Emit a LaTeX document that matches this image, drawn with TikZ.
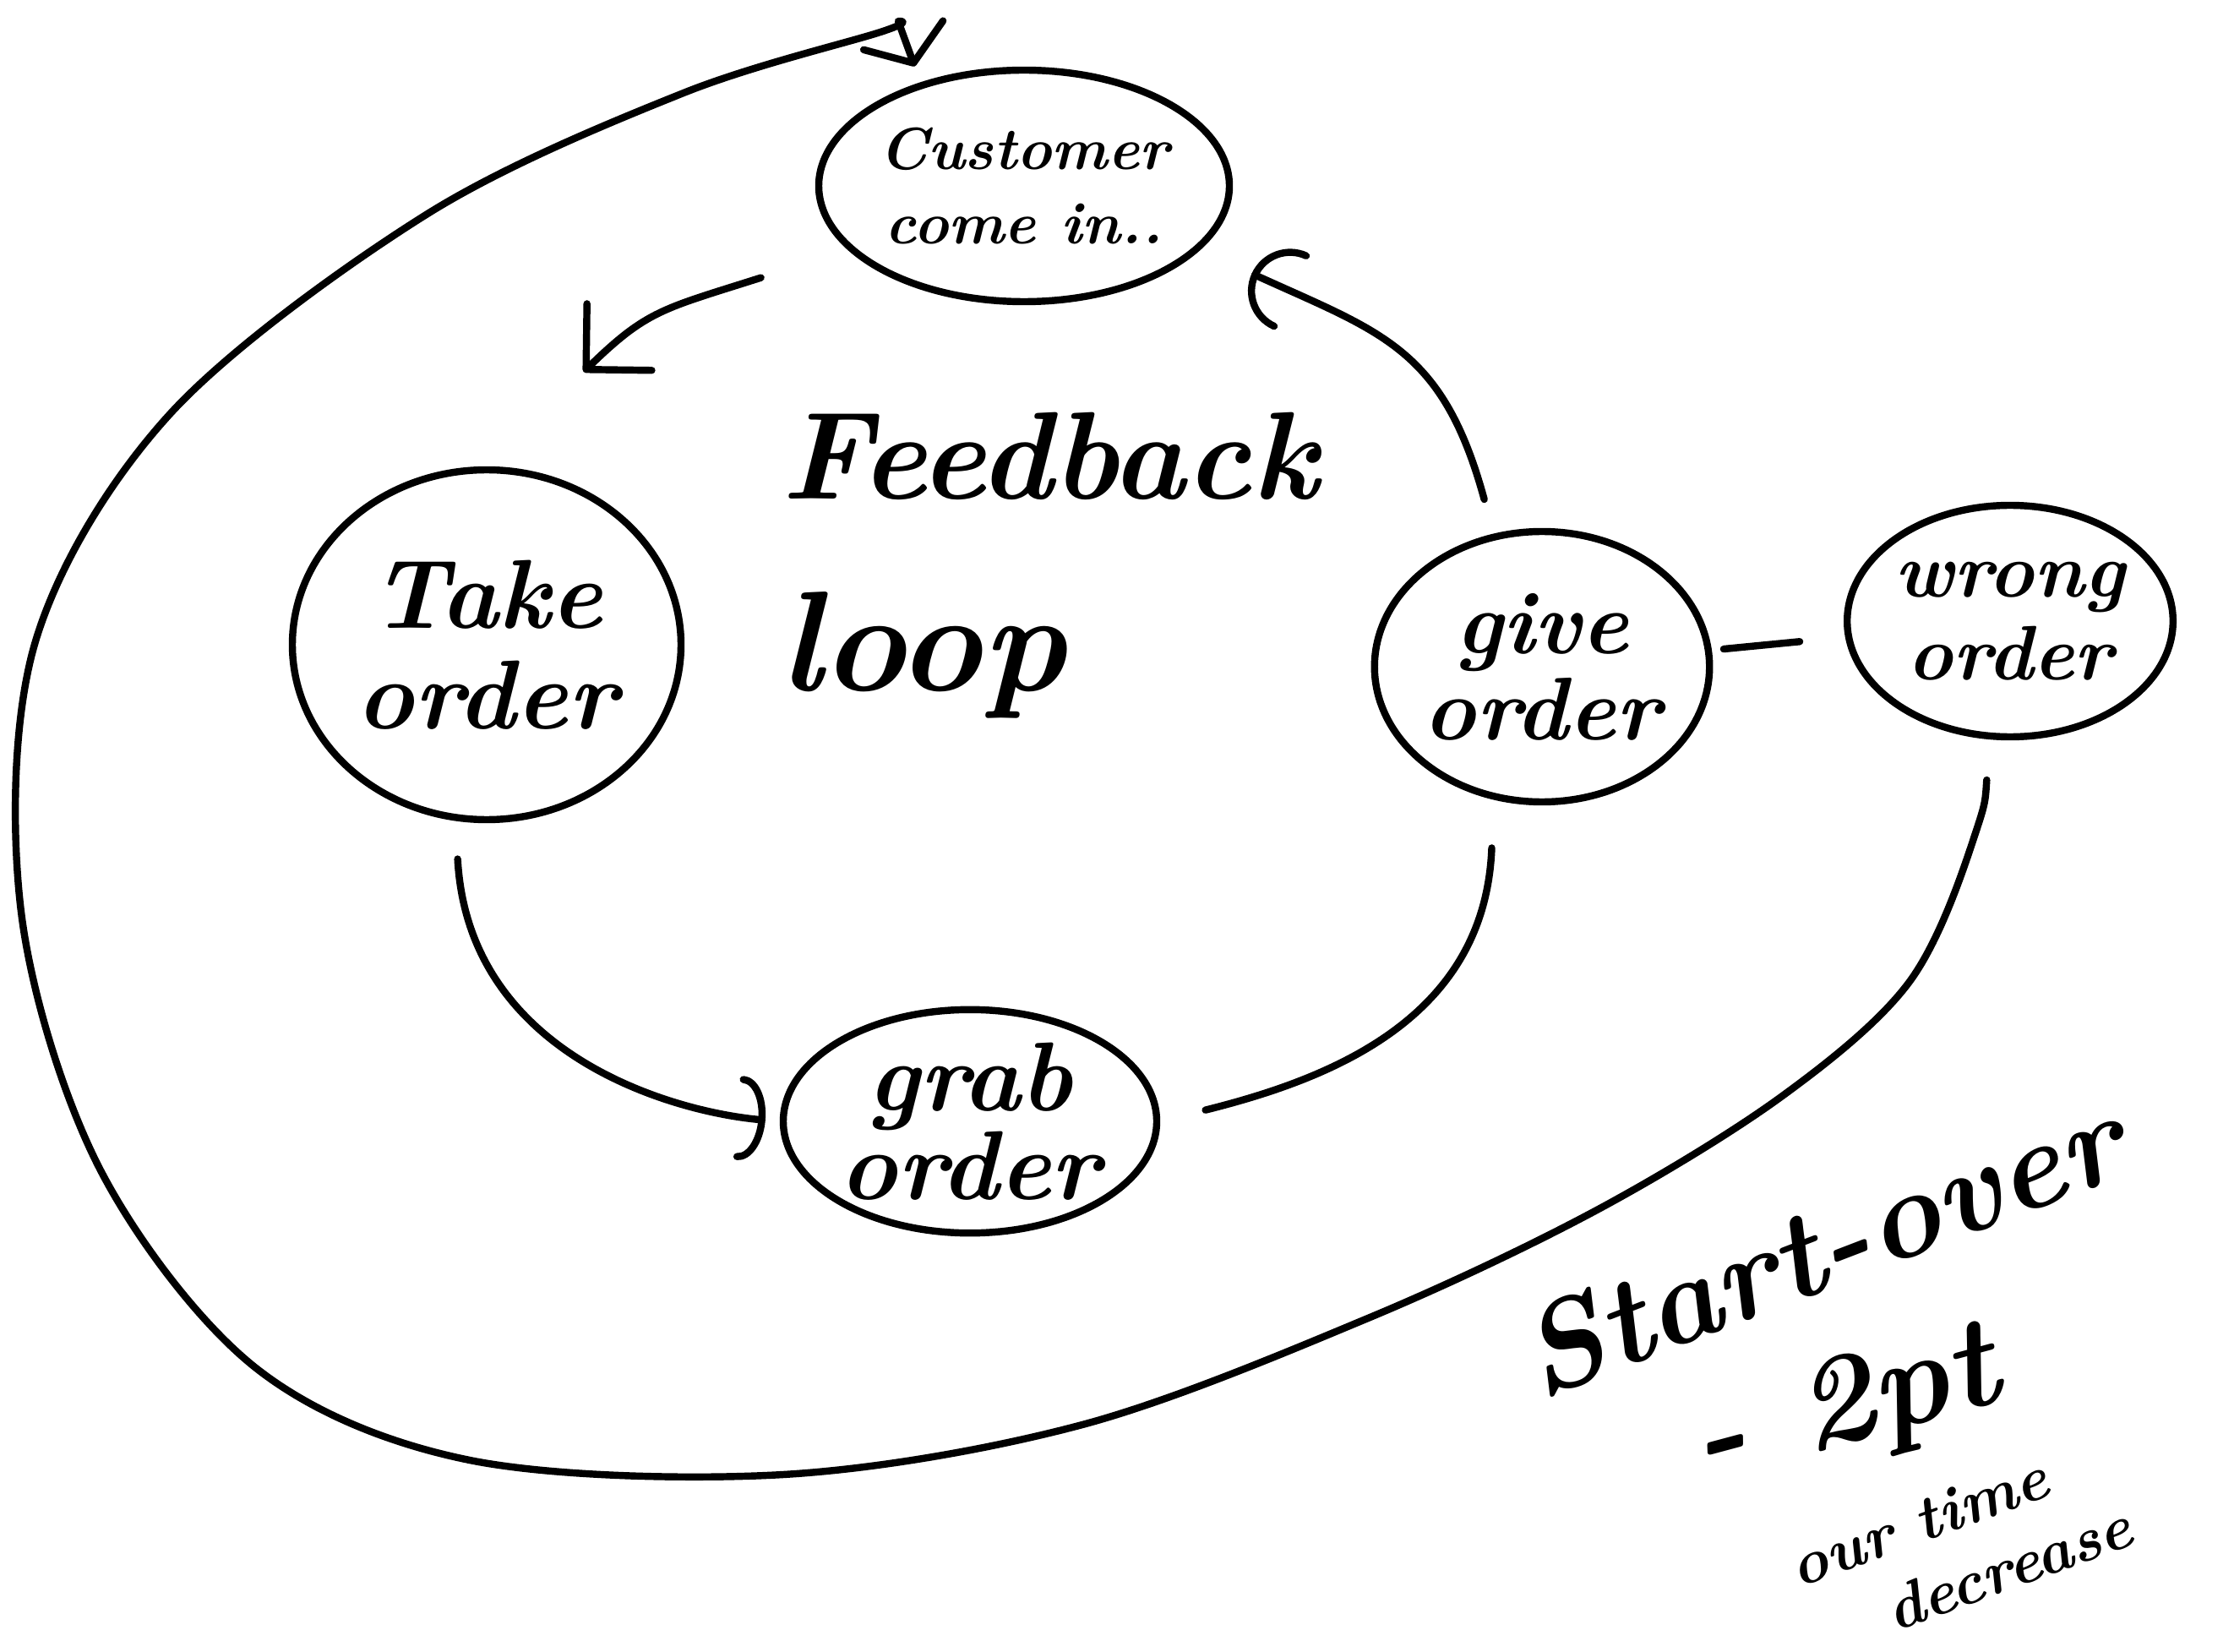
\documentclass[tikz,border=0pt]{standalone}
\usepackage{tikz}
\usetikzlibrary{arrows.meta,positioning,shapes.geometric}

\begin{document}
\begin{tikzpicture}[
  pen/.style={line width=2.4pt,line cap=round,line join=round},
  bubble/.style={pen,draw,ellipse,inner sep=0pt,align=center},
  scrawl/.style={inner sep=0pt,align=center}]
\useasboundingbox (0,0) rectangle (26.44,-19.55);
% the steps of the loop
\node[bubble,minimum width=3.92cm,minimum height=2.74cm,font=\bfseries\itshape\fontsize{20}{25}\selectfont] (cust) at (12.12,-2.20) {Customer\\come in..};
\node[bubble,minimum width=4.60cm,minimum height=4.14cm,font=\bfseries\itshape\fontsize{33}{34}\selectfont] (take) at (5.76,-7.63) {Take\\order};
\node[bubble,minimum width=3.12cm,minimum height=3.20cm,font=\bfseries\itshape\fontsize{30}{29}\selectfont] (give) at (18.25,-7.89) {give\\order};
\node[bubble,minimum width=3.40cm,minimum height=2.74cm,font=\bfseries\itshape\fontsize{26}{28}\selectfont] (wrong) at (23.79,-7.35) {wrong\\order};
\node[bubble,minimum width=4.42cm,minimum height=2.53cm,font=\bfseries\itshape\fontsize{33}{30}\selectfont] (grab) at (11.48,-13.27) {grab\\order};
% words in the middle and in the corner
\node[scrawl,font=\bfseries\itshape\fontsize{42}{50}\selectfont] (feed) at (12.42,-5.40) {Feedback};
\node[scrawl,font=\bfseries\itshape\fontsize{48}{56}\selectfont] (loop) at (10.92,-7.75) {loop};
\node[scrawl,rotate=21,font=\bfseries\itshape\fontsize{42}{50}\selectfont] (start) at (21.55,-14.75) {Start-over};
\node[scrawl,rotate=15,font=\bfseries\itshape\fontsize{44}{50}\selectfont] (pts) at (21.85,-16.70) {- 2pt};
\node[scrawl,rotate=20,align=left,font=\bfseries\itshape\fontsize{21}{25}\selectfont] (drop) at (23.20,-18.30) {our time\\\hspace*{0.9cm}decrease};
% connectors
\draw[pen,-{Straight Barb[length=5.5mm,width=11mm,round]},shorten <=1.08cm,shorten >=1.6cm]
  (cust.200) .. controls +(-2.2,-0.7) and +(1.9,1.85) .. (take.north);
\draw[pen,-{Arc Barb[length=3mm,width=10mm,round]},shorten <=0.45cm,shorten >=0.17cm]
  (take.260) .. controls +(0.15,-2.8) and +(-1.2,0.1) .. (grab.west);
\draw[pen,shorten <=0.55cm,shorten >=0.57cm]
  (grab.east) .. controls +(2.0,0.5) and +(-0.1,-2.6) .. (give.250);
\draw[pen,-{Arc Barb[length=5mm,width=10mm,round]},shorten <=0.42cm,shorten >=0.67cm]
  (give.110) .. controls +(-0.6,2.2) and +(2.15,-0.98) .. (cust.340);
\draw[pen,shorten <=0.14cm,shorten >=0.54cm] (give) -- (wrong);
% start over: all the way round
\draw[pen,-{Straight Barb[length=3.5mm,width=10mm,round]},shorten <=0.48cm,shorten >=0.2cm]
  plot[smooth,tension=0.55] coordinates {(wrong.260) (23.35,-9.95) (22.59,-11.63) (21.08,-12.98)
    (18.88,-14.33) (16.19,-15.60) (12.81,-16.86) (9.27,-17.45) (5.56,-17.28) (3.03,-16.19)
    (1.18,-13.83) (0.25,-10.79) (0.42,-7.59) (2.02,-4.89) (5.06,-2.53) (8.09,-1.10)
    (10.45,-0.37) (10.63,-0.25)} -- (cust.135);
\end{tikzpicture}
\end{document}
